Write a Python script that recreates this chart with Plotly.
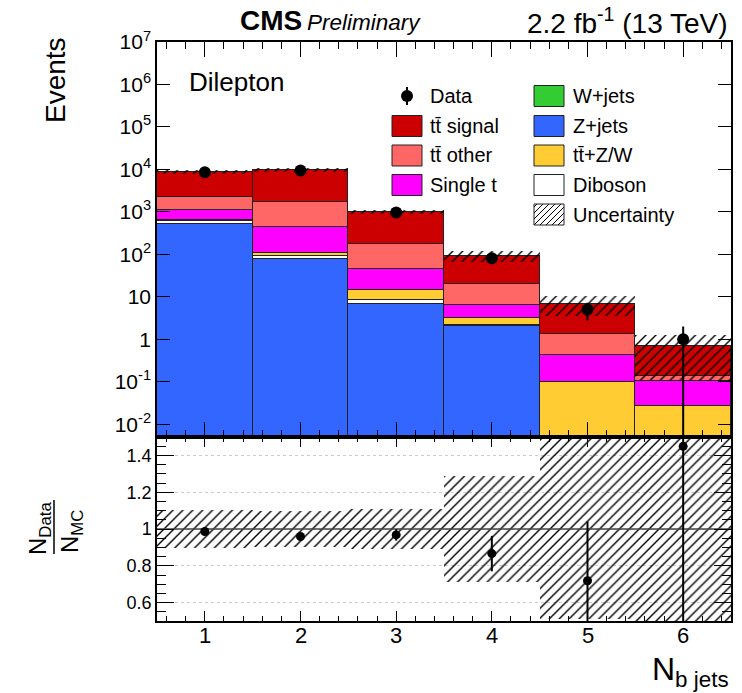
import numpy as np
import plotly.graph_objects as go

W, H = 742, 693
FONT = "Liberation Sans, Arial, Helvetica, sans-serif"

# ---- event yields per b-jet multiplicity -------------------------------
nb_jets = [1, 2, 3, 4, 5, 6]
data_events = [8550, 9420, 963, 81, 5, 1]

z_jets = [528, 79.5, 6.85, 2.04, 0, 0]
diboson = [80, 11, 1.4, 0.1, 0, 0]
w_jets = [3, 0.5, 0.05, 0, 0, 0]
ttzw = [20, 19, 6.0, 1.06, 0.098, 0.027]
single_t = [496, 339, 31.2, 3.05, 0.336, 0.078]
tt_other = [1063, 1289, 130.5, 13.95, 0.92, 0.031]
tt_signal = [6480, 8082, 819, 73.3, 5.6, 0.554]

# relative uncertainty on the total prediction
mc_unc_rel = [0.105, 0.10, 0.11, 0.29, 0.49, 0.85]

# ---- tick labels ---------------------------------------------------------
y_tick_vals = [1e-2, 1e-1, 1, 10, 1e2, 1e3, 1e4, 1e5, 1e6, 1e7]
y_tick_text = ["10<sup>-2</sup>", "10<sup>-1</sup>", "1", "10", "10<sup>2</sup>",
               "10<sup>3</sup>", "10<sup>4</sup>", "10<sup>5</sup>",
               "10<sup>6</sup>", "10<sup>7</sup>"]
ratio_tick_vals = [0.6, 0.8, 1.0, 1.2, 1.4]
ratio_tick_text = ["0.6", "0.8", "1", "1.2", "1.4"]
x_tick_vals = [1, 2, 3, 4, 5, 6]
x_tick_text = ["1", "2", "3", "4", "5", "6"]

# stack components, bottom to top: (name, values, colour)
stack = [
    ("Z+jets", z_jets, "#3366FF"),
    ("Diboson", diboson, "#FFFFFF"),
    ("W+jets", w_jets, "#33CC33"),
    ("tt\u0304+Z/W", ttzw, "#FFCC33"),
    ("Single t", single_t, "#FF00FF"),
    ("tt\u0304 other", tt_other, "#FF6666"),
    ("tt\u0304 signal", tt_signal, "#CC0000"),
]

total = np.sum([np.array(v, float) for _, v, _ in stack], axis=0)
data = np.array(data_events, float)
data_err = np.sqrt(data)
unc = np.array(mc_unc_rel) * total
ratio = data / total
ratio_err = data_err / total
ratio_unc = np.array(mc_unc_rel)


def px(x):
    return x / W


def py(y):
    return 1 - y / H


hatch = dict(shape="/", size=7, solidity=0.2, fillmode="replace",
             fgcolor="black", bgcolor="rgba(0,0,0,0)")

fig = go.Figure()

# stacked predictions
for name, vals, col in stack:
    fig.add_trace(go.Bar(
        x=nb_jets, y=vals, name=name, xaxis="x", yaxis="y",
        marker=dict(color=col, line=dict(color="#222222", width=1)),
        hoverinfo="skip",
    ))

# hatched uncertainty band on the total
fig.add_trace(go.Bar(
    x=nb_jets, y=(2 * unc).tolist(), base=(total - unc).tolist(), xaxis="x", yaxis="y",
    marker=dict(color="rgba(0,0,0,0)", line=dict(width=0), pattern=hatch),
    hoverinfo="skip",
))

# data points
fig.add_trace(go.Scatter(
    x=nb_jets, y=data.tolist(), mode="markers", xaxis="x", yaxis="y",
    marker=dict(color="black", size=12),
    error_y=dict(type="data", array=data_err.tolist(), color="black", thickness=2, width=0),
    hoverinfo="skip",
))

# ratio panel: uncertainty band, unity line and data/MC
fig.add_trace(go.Bar(
    x=nb_jets, y=(2 * ratio_unc).tolist(), base=(1 - ratio_unc).tolist(),
    xaxis="x2", yaxis="y2",
    marker=dict(color="rgba(0,0,0,0)", line=dict(width=0), pattern=hatch),
    hoverinfo="skip",
))
fig.add_trace(go.Scatter(
    x=[0.5, 6.5], y=[1, 1], mode="lines", xaxis="x2", yaxis="y2",
    line=dict(color="#444444", width=1.5), hoverinfo="skip",
))
fig.add_trace(go.Scatter(
    x=nb_jets, y=ratio.tolist(), mode="markers", xaxis="x2", yaxis="y2",
    marker=dict(color="black", size=9),
    error_y=dict(type="data", array=ratio_err.tolist(), color="black", thickness=2, width=0),
    hoverinfo="skip",
))

main_dom = [py(437), py(42)]
ratio_dom = [py(621), py(437)]
x_dom = [px(157), px(731)]

axis_common = dict(showline=True, linecolor="black", linewidth=1.5, mirror="allticks",
                   ticks="inside", tickcolor="black", zeroline=False, showgrid=False)

# minor decade ticks of the log axis
minor_log = [m * 10.0 ** k for k in range(-3, 7) for m in range(2, 10)]
log_range = [float(np.log10(0.005)), 7.0]

fig.update_layout(
    width=W, height=H, margin=dict(l=0, r=0, t=0, b=0, autoexpand=False),
    paper_bgcolor="white", plot_bgcolor="white",
    barmode="stack", bargap=0, showlegend=False,
    font=dict(family=FONT, color="black"),
    xaxis=dict(domain=x_dom, anchor="y", range=[0.5, 6.5], showticklabels=False,
               tickmode="array", tickvals=x_tick_vals, ticklen=15,
               minor=dict(ticks="inside", dtick=0.2, tick0=0, ticklen=7, tickcolor="black"),
               **axis_common),
    yaxis=dict(domain=main_dom, anchor="x", type="log", range=log_range,
               tickmode="array", tickvals=y_tick_vals, ticktext=y_tick_text, ticklen=13,
               tickfont=dict(size=21), **axis_common),
    yaxis4=dict(overlaying="y", anchor="x", type="log", range=log_range,
                tickmode="array", tickvals=minor_log, ticks="inside", ticklen=6,
                tickcolor="black", showticklabels=False, showline=False,
                mirror="allticks", showgrid=False, zeroline=False),
    xaxis2=dict(domain=x_dom, anchor="y2", range=[0.5, 6.5], showticklabels=False,
                tickmode="array", tickvals=x_tick_vals, ticklen=10,
                minor=dict(ticks="inside", dtick=0.2, tick0=0, ticklen=5, tickcolor="black"),
                **axis_common),
    yaxis2=dict(domain=ratio_dom, anchor="x2", range=[0.5, 1.5],
                tickmode="array", tickvals=ratio_tick_vals, ticktext=ratio_tick_text,
                ticklen=17, tickfont=dict(size=18),
                minor=dict(ticks="inside", dtick=0.05, tick0=0, ticklen=9,
                           tickcolor="black"),
                **axis_common),
)
# dotted guide lines in the ratio panel
fig.update_yaxes(selector=dict(anchor="x2"), showgrid=True, gridcolor="#cccccc",
                 griddash="dot", gridwidth=1)

shapes = []
annotations = []

# x tick labels under the ratio panel, placed on the x2 scale
for v, t in zip(x_tick_vals, x_tick_text):
    annotations.append(dict(text=t, x=v, xref="x2", y=py(635), yref="paper",
                            xanchor="center", yanchor="middle", showarrow=False,
                            font=dict(size=22)))

# legend
lx1, lx2 = 392, 534
ly = [96, 126, 155.5, 185, 214.5]
bw, bh = 30, 21
col1 = [("tt\u0304 signal", "#CC0000"), ("tt\u0304 other", "#FF6666"),
        ("Single t", "#FF00FF")]
col2 = [("W+jets", "#33CC33"), ("Z+jets", "#3366FF"), ("tt\u0304+Z/W", "#FFCC33"),
        ("Diboson", "#FFFFFF")]


def box(x0, yc, col):
    return dict(type="rect", xref="paper", yref="paper", x0=px(x0), x1=px(x0 + bw),
                y0=py(yc - bh / 2), y1=py(yc + bh / 2), fillcolor=col,
                line=dict(color="#222222", width=1))


paper_notes = []

# data marker entry
shapes.append(dict(type="line", xref="paper", yref="paper", x0=px(407), x1=px(407),
                   y0=py(ly[0] - 9), y1=py(ly[0] + 9), line=dict(color="black", width=2)))
shapes.append(dict(type="circle", xref="paper", yref="paper", x0=px(401), x1=px(413),
                   y0=py(ly[0] - 6), y1=py(ly[0] + 6), fillcolor="black",
                   line=dict(color="black", width=0)))
paper_notes.append(dict(text="Data", x=px(428), y=py(ly[0]), xanchor="left",
                        yanchor="middle", font=dict(size=20)))
for i, (lab, col) in enumerate(col1):
    shapes.append(box(lx1, ly[i + 1], col))
    paper_notes.append(dict(text=lab, x=px(428), y=py(ly[i + 1]), xanchor="left",
                            yanchor="middle", font=dict(size=20)))
for i, (lab, col) in enumerate(col2):
    shapes.append(box(lx2, ly[i], col))
    paper_notes.append(dict(text=lab, x=px(571), y=py(ly[i]), xanchor="left",
                            yanchor="middle", font=dict(size=20)))

# hatched swatch: diagonal strokes clipped to the box
bx0, bx1 = lx2, lx2 + bw
by0, by1 = ly[4] + bh / 2, ly[4] - bh / 2          # bottom, top (pixels)
step = 6
for c in np.arange(-bh + step / 2, bw, step):
    xa, ya = bx0 + c, by0
    xb, yb = bx0 + c + bh, by1
    if xa < bx0:
        ya, xa = by0 - (bx0 - xa), bx0
    if xb > bx1:
        yb, xb = by1 + (xb - bx1), bx1
    shapes.append(dict(type="line", xref="paper", yref="paper", x0=px(xa), y0=py(ya),
                       x1=px(xb), y1=py(yb), line=dict(color="black", width=1)))
shapes.append(dict(type="rect", xref="paper", yref="paper", x0=px(bx0), x1=px(bx1),
                   y0=py(by0), y1=py(by1), line=dict(color="#222222", width=1)))
paper_notes.append(dict(text="Uncertainty", x=px(571), y=py(ly[4]), xanchor="left",
                        yanchor="middle", font=dict(size=20)))

# header and axis texts
paper_notes += [
    dict(text="<b>CMS</b>", x=px(238), y=py(21), xanchor="left", yanchor="middle",
         font=dict(size=28)),
    dict(text="<i>Preliminary</i>", x=px(305), y=py(22), xanchor="left", yanchor="middle",
         font=dict(size=22.5)),
    dict(text="2.2 fb<sup>-1</sup> (13 TeV)", x=px(730), y=py(21), xanchor="right",
         yanchor="middle", font=dict(size=28)),
    dict(text="Dilepton", x=px(187), y=py(82), xanchor="left", yanchor="middle",
         font=dict(size=26)),
    dict(text="Events", x=px(55), y=py(80), xanchor="center", yanchor="middle",
         textangle=-90, font=dict(size=28)),
    dict(text="N<sub>Data</sub>", x=px(39), y=py(529), xanchor="center", yanchor="middle",
         textangle=-90, font=dict(size=24)),
    dict(text="N<sub>MC</sub>", x=px(71), y=py(532), xanchor="center", yanchor="middle",
         textangle=-90, font=dict(size=24)),
    dict(text="N<sub>b jets</sub>", x=px(731), y=py(671), xanchor="right", yanchor="middle",
         font=dict(size=32)),
]
for a in paper_notes:
    a["xref"] = "paper"
    a["yref"] = "paper"
    a["showarrow"] = False
annotations += paper_notes

# fraction bar of the ratio title
shapes.append(dict(type="line", xref="paper", yref="paper", x0=px(54), x1=px(54),
                   y0=py(500), y1=py(554), line=dict(color="black", width=1.5)))

fig.update_layout(shapes=shapes, annotations=annotations)
fig.write_html("out.html")
